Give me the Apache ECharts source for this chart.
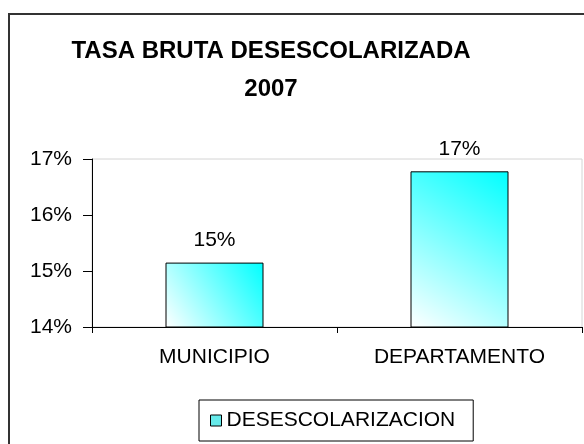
<!DOCTYPE html>
<html><head><meta charset="utf-8">
<script src="https://cdn.jsdelivr.net/npm/echarts@6/dist/echarts.min.js"></script>
<style>html,body{margin:0;padding:0;background:#fff}#c{width:584px;height:444px}</style>
</head><body><div id="c"></div>
<script>
const categories = ['MUNICIPIO', 'DEPARTAMENTO'];
const seriesName = 'DESESCOLARIZACION';
const values = [15.15, 16.78];
const yTicks = [14, 15, 16, 17];
const titleLines = ['TASA BRUTA DESESCOLARIZADA', '2007'];

const font = "'Liberation Sans', Arial, sans-serif";
const chart = echarts.init(document.getElementById('c'), null, {renderer: 'canvas'});
chart.setOption({
  backgroundColor: '#fff',
  animation: false,
  title: {
    text: titleLines.join('\n'),
    left: 266, top: 27, textAlign: 'center',
    textStyle: {fontFamily: font, fontWeight: 'bold', fontSize: 24, color: '#000', lineHeight: 38}
  },
  graphic: [{
    type: 'rect', shape: {x: 9, y: 14, width: 700, height: 600},
    style: {fill: 'none', stroke: '#333', lineWidth: 2}, silent: true
  }],
  legend: {
    left: 199, top: 400,
    padding: [10, 18, 10, 11],
    borderColor: '#000', borderWidth: 1,
    itemWidth: 11, itemHeight: 11, itemGap: 4,
    textStyle: {fontFamily: font, fontSize: 21, color: '#000'},
    data: [{name: seriesName, icon: 'rect', itemStyle: {color: '#66eaea', borderColor: '#000', borderWidth: 1}}]
  },
  grid: {left: 92, top: 159, right: 2, bottom: 117, show: true, borderColor: '#d4d4d4', borderWidth: 1},
  xAxis: {
    type: 'category', data: categories,
    axisLine: {lineStyle: {color: '#000', width: 1}},
    axisTick: {show: true, length: 6, lineStyle: {color: '#000'}},
    axisLabel: {fontFamily: font, fontSize: 21, color: '#000', margin: 20}
  },
  yAxis: {
    type: 'value', min: yTicks[0], max: yTicks[yTicks.length - 1], interval: 1,
    axisLine: {show: true, lineStyle: {color: '#000', width: 1}},
    axisTick: {show: true, length: 9, lineStyle: {color: '#000'}},
    splitLine: {show: false},
    axisLabel: {fontFamily: font, fontSize: 21, color: '#000', margin: 20, formatter: v => v + '%'}
  },
  series: [{
    name: seriesName, type: 'bar', data: values, barWidth: '40%',
    itemStyle: {
      color: new echarts.graphic.LinearGradient(0, 1, 1, 0, [
        {offset: 0, color: '#ffffff'}, {offset: 1, color: '#00ffff'}
      ]),
      borderColor: '#000', borderWidth: 1
    },
    label: {
      show: true, position: 'top', distance: 12,
      fontFamily: font, fontSize: 21, color: '#000',
      formatter: p => Math.round(p.value) + '%'
    }
  }]
});
</script></body></html>
